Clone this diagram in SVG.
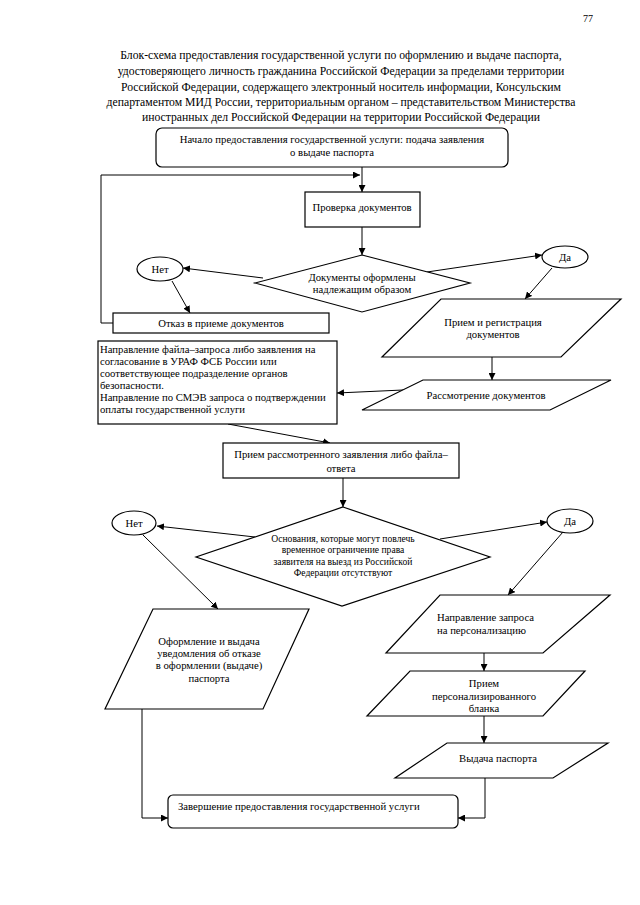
<svg xmlns="http://www.w3.org/2000/svg" width="640" height="905" viewBox="0 0 640 905">
<defs>
<marker id="ah" viewBox="0 0 10 10" refX="10" refY="5" markerWidth="7" markerHeight="7" orient="auto" markerUnits="userSpaceOnUse">
<path d="M0,0 L10,5 L0,10 z" fill="#000"/>
</marker>
<style>
.sh{fill:#fff;stroke:#000;stroke-width:1.2}
.t{font-family:"Liberation Serif","Times New Roman",serif;font-size:10.7px;fill:#000}
.c{text-anchor:middle}
.ttl{font-family:"Liberation Serif","Times New Roman",serif;font-size:11.7px;fill:#000;text-anchor:middle}
.s{font-size:9.6px}
.cn{fill:none;stroke:#000;stroke-width:1}
.cn.a{marker-end:url(#ah)}
</style>
</defs>
<rect width="640" height="905" fill="#fff"/>
<text x="583" y="22" class="t" style="font-size:10px">77</text>
<g id="title">
<text class="ttl" x="341" y="59">Блок-схема предоставления государственной услуги по оформлению и выдаче паспорта,</text>
<text class="ttl" x="341" y="75">удостоверяющего личность гражданина Российской Федерации за пределами территории</text>
<text class="ttl" x="341" y="91">Российской Федерации, содержащего электронный носитель информации, Консульским</text>
<text class="ttl" x="341" y="106">департаментом МИД России, территориальным органом – представительством Министерства</text>
<text class="ttl" x="341" y="121">иностранных дел Российской Федерации на территории Российской Федерации</text>
</g>
<g id="connectors">
<line class="cn a" x1="362" y1="167" x2="362" y2="192"/>
<polyline class="cn a" points="113,323 101,323 101,175 360,175"/>
<line class="cn a" x1="362" y1="227" x2="362" y2="255"/>
<line class="cn a" x1="263" y1="278" x2="183" y2="268"/>
<line class="cn a" x1="172" y1="281" x2="190" y2="313"/>
<line class="cn a" x1="427" y1="272" x2="542" y2="255"/>
<line class="cn a" x1="552" y1="268" x2="525" y2="299"/>
<line class="cn a" x1="492" y1="357" x2="492" y2="380"/>
<line class="cn a" x1="403" y1="390" x2="337" y2="393"/>
<line class="cn a" x1="228" y1="424" x2="330" y2="443"/>
<line class="cn a" x1="343" y1="478" x2="343" y2="507"/>
<line class="cn a" x1="255" y1="537" x2="157" y2="526"/>
<line class="cn a" x1="143" y1="535" x2="218" y2="609"/>
<line class="cn a" x1="440" y1="539" x2="547" y2="522"/>
<line class="cn a" x1="563" y1="532" x2="508" y2="595"/>
<line class="cn a" x1="484" y1="653" x2="484" y2="671"/>
<line class="cn a" x1="484" y1="716" x2="484" y2="743"/>
<polyline class="cn a" points="142,709 142,818 168,818"/>
<polyline class="cn a" points="485,778 485,818 458,818"/>
</g>
<g id="start">
<rect class="sh" x="156" y="128" width="352" height="39" rx="6"/>
<text class="t c" x="332" y="143">Начало предоставления государственной услуги: подача заявления</text>
<text class="t c" x="332" y="156">о выдаче паспорта</text>
</g>
<g id="check">
<rect class="sh" x="305" y="192" width="115" height="35"/>
<text class="t c" x="362" y="211">Проверка документов</text>
</g>
<g id="decision1">
<polygon class="sh" points="362,255 470,283 362,312 255,283"/>
<text class="t c" x="362" y="281">Документы оформлены</text>
<text class="t c" x="362" y="293">надлежащим образом</text>
</g>
<g id="no1">
<ellipse class="sh" cx="160" cy="269" rx="23" ry="12"/>
<text class="t c" x="160" y="273">Нет</text>
</g>
<g id="yes1">
<ellipse class="sh" cx="565" cy="257" rx="23" ry="11"/>
<text class="t c" x="565" y="261">Да</text>
</g>
<g id="refuse">
<rect class="sh" x="113" y="313" width="216" height="20"/>
<text class="t c" x="221" y="327">Отказ в приеме документов</text>
</g>
<g id="register">
<polygon class="sh" points="441,299 621,299 561,357 382,357"/>
<text class="t c" x="493" y="326">Прием и регистрация</text>
<text class="t c" x="493" y="338">документов</text>
</g>
<g id="review">
<polygon class="sh" points="423,380 611,380 550,410 362,410"/>
<text class="t c" x="486" y="399">Рассмотрение документов</text>
</g>
<g id="request">
<rect class="sh" x="98" y="341" width="239" height="83"/>
<text class="t" x="100" y="353">Направление файла–запроса либо заявления на</text>
<text class="t" x="100" y="365">согласование в УРАФ ФСБ России или</text>
<text class="t" x="100" y="377">соответствующее подразделение органов</text>
<text class="t" x="100" y="389">безопасности.</text>
<text class="t" x="100" y="401">Направление по СМЭВ запроса о подтверждении</text>
<text class="t" x="100" y="413">оплаты государственной услуги</text>
</g>
<g id="receive">
<rect class="sh" x="223" y="443" width="236" height="35"/>
<text class="t c" x="341" y="458">Прием рассмотренного заявления либо файла–</text>
<text class="t c" x="341" y="472">ответа</text>
</g>
<g id="decision2">
<polygon class="sh" points="343,507 490,557 342,606 196,557"/>
<text class="t c s" x="343" y="542">Основания, которые могут повлечь</text>
<text class="t c s" x="343" y="553">временное ограничение права</text>
<text class="t c s" x="343" y="565">заявителя на выезд из Российской</text>
<text class="t c s" x="343" y="576">Федерации отсутствуют</text>
</g>
<g id="no2">
<ellipse class="sh" cx="134" cy="523" rx="22" ry="12"/>
<text class="t c" x="134" y="527">Нет</text>
</g>
<g id="yes2">
<ellipse class="sh" cx="570" cy="521" rx="23" ry="12"/>
<text class="t c" x="570" y="525">Да</text>
</g>
<g id="refusal-notice">
<polygon class="sh" points="153,609 309,609 263,709 105,709"/>
<text class="t c" x="209" y="645">Оформление и выдача</text>
<text class="t c" x="209" y="657">уведомления об отказе</text>
<text class="t c" x="209" y="669">в оформлении (выдаче)</text>
<text class="t c" x="209" y="682">паспорта</text>
</g>
<g id="personalization">
<polygon class="sh" points="440,595 610,595 543,653 386,653"/>
<text class="t" x="437" y="621">Направление запроса</text>
<text class="t" x="437" y="634">на персонализацию</text>
</g>
<g id="blank">
<polygon class="sh" points="410,671 585,671 543,716 367,716"/>
<text class="t c" x="484" y="687">Прием</text>
<text class="t c" x="484" y="700">персонализированного</text>
<text class="t c" x="484" y="712">бланка</text>
</g>
<g id="issue">
<polygon class="sh" points="447,743 608,743 553,778 395,778"/>
<text class="t c" x="498" y="762">Выдача паспорта</text>
</g>
<g id="end">
<rect class="sh" x="168" y="795" width="290" height="33" rx="5"/>
<text class="t" x="178" y="810">Завершение предоставления государственной услуги</text>
</g>
</svg>
